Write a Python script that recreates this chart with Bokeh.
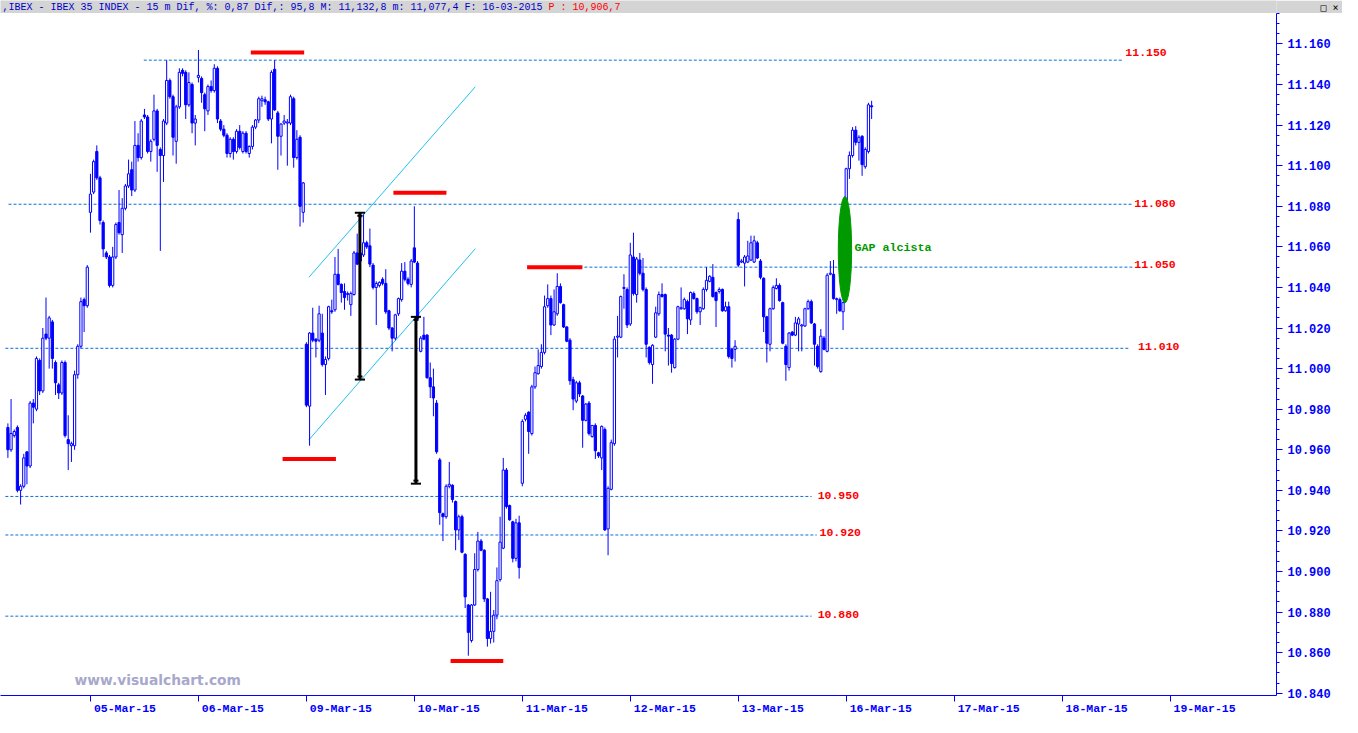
from bokeh.plotting import figure
from bokeh.models import ColumnDataSource, FixedTicker, Range1d
from bokeh.layouts import column
from bokeh.embed import file_html
from bokeh.resources import INLINE
from bokeh.core.properties import value

# ---------------- data (IBEX 35, 15 minute bars, open/high/low/close) ----------------
day_labels = ["04-Mar-15", "05-Mar-15", "06-Mar-15", "09-Mar-15", "10-Mar-15", "11-Mar-15",
              "12-Mar-15", "13-Mar-15", "16-Mar-15", "17-Mar-15", "18-Mar-15", "19-Mar-15"]
BARS_PER_DAY = 34

bars_04 = [(10971, 10973, 10956, 10960), (10960, 10985, 10959, 10968), (10967, 10970, 10966, 10969),
           (10971, 10972, 10939, 10940), (10940, 10943, 10933, 10942), (10942, 10958, 10941, 10956),
           (10959, 10959, 10943, 10952), (10952, 10984, 10951, 10983), (10983, 10985, 10973, 10981),
           (10980, 11006, 10979, 11005), (11004, 11005, 10987, 10989), (10989, 11020, 10988, 11015),
           (11017, 11035, 11014, 11015), (11015, 11026, 11000, 11025), (11023, 11024, 11000, 11005),
           (11003, 11004, 10987, 10993), (10992, 10993, 10985, 10988), (10988, 11004, 10987, 11003),
           (11003, 11004, 10966, 10967), (10965, 10977, 10950, 10963), (10962, 10964, 10954, 10963),
           (10962, 10999, 10960, 10997), (10997, 11012, 10995, 11011), (11011, 11035, 11010, 11033),
           (11034, 11035, 11018, 11031), (11031, 11051, 11030, 11050)]
bars_05 = [(11077, 11096, 11067, 11086), (11087, 11103, 11086, 11102), (11107, 11110, 11093, 11094),
           (11094, 11095, 11071, 11073), (11072, 11073, 11055, 11059), (11057, 11058, 11054, 11055),
           (11055, 11056, 11040, 11041), (11041, 11060, 11040, 11055), (11055, 11072, 11054, 11071),
           (11072, 11088, 11066, 11067), (11066, 11084, 11057, 11079), (11079, 11091, 11078, 11090),
           (11090, 11103, 11089, 11096), (11098, 11102, 11085, 11088), (11088, 11122, 11087, 11110),
           (11110, 11116, 11102, 11104), (11104, 11123, 11103, 11122), (11125, 11128, 11123, 11124),
           (11124, 11125, 11106, 11107), (11107, 11113, 11102, 11112), (11113, 11135, 11112, 11127),
           (11127, 11128, 11097, 11110), (11108, 11109, 11058, 11105), (11105, 11123, 11092, 11122),
           (11121, 11152, 11120, 11142), (11142, 11143, 11133, 11134), (11134, 11135, 11105, 11114),
           (11112, 11130, 11101, 11129), (11129, 11148, 11128, 11146), (11147, 11148, 11144, 11145.5),
           (11146, 11147, 11123, 11130), (11130, 11146, 11129, 11141), (11140, 11141, 11116, 11121),
           (11121, 11125, 11110, 11123)]
bars_06 = [(11143.5, 11157, 11141, 11144.5), (11143, 11144, 11131, 11136), (11135, 11136, 11117, 11128),
           (11127, 11140, 11125, 11139), (11139, 11142, 11136, 11137), (11137, 11150, 11136, 11148),
           (11148, 11149, 11121, 11123), (11122, 11123, 11117, 11118), (11118, 11120, 11114, 11115),
           (11115, 11116, 11104, 11106), (11106, 11114, 11104, 11113), (11113, 11114, 11103, 11107),
           (11107, 11118, 11106, 11117), (11117, 11120, 11108, 11109), (11107, 11117, 11106, 11116),
           (11116, 11117, 11106, 11107), (11106, 11110, 11104, 11109.5), (11109.5, 11120, 11108, 11119),
           (11119, 11123, 11118, 11122.5), (11122.5, 11134, 11121, 11133), (11132, 11134.5, 11129, 11133),
           (11132.5, 11134, 11130, 11131.5), (11131.5, 11132, 11122, 11123), (11123, 11147, 11111, 11146),
           (11147.5, 11152, 11127, 11127.5), (11126, 11127, 11098, 11114.5), (11114.5, 11121, 11105, 11120.5),
           (11121, 11125, 11120, 11122), (11121, 11123, 11100, 11121.5), (11121, 11135, 11120, 11134),
           (11133, 11134, 11099, 11104), (11104, 11117.5, 11103, 11113), (11114, 11115, 11070, 11080),
           (11077, 11092, 11072, 11091.5)]
bars_09 = [(11012, 11013, 10981, 10982), (10981.5, 11018, 10962, 11017.5), (11017.5, 11030, 11013, 11014),
           (11014.5, 11015, 11005.5, 11013.5), (11014, 11031, 11013, 11027), (11017.5, 11027, 11001, 11002),
           (11002, 11006, 10987, 11004.5), (11005, 11031, 11004, 11030.5), (11028.5, 11034, 11027, 11028),
           (11029, 11055, 11028, 11046.5), (11046.5, 11059, 11041, 11041.5), (11041.5, 11042, 11032.5, 11037.5),
           (11038, 11042, 11029, 11035), (11036.5, 11038, 11033.5, 11037), (11031.5, 11038, 11026, 11037),
           (11036.5, 11058, 11036, 11057), (11057, 11066.5, 11051, 11051.5), (11053, 11060, 11052.5, 11057),
           (11056, 11076, 11055, 11062), (11062, 11063, 11059, 11060), (11060.5, 11069, 11050, 11051.5),
           (11051, 11052, 11039, 11040), (11040, 11043, 11021.5, 11042), (11041, 11043, 11040, 11042.5),
           (11044, 11045, 11041, 11042), (11042, 11049, 11027, 11028), (11028.5, 11029, 11019, 11020),
           (11020, 11020.5, 11008.5, 11015), (11015, 11027, 11014, 11026.5), (11027, 11035, 11026, 11034.5),
           (11034, 11052, 11033, 11048), (11048, 11052.5, 11043, 11044), (11044, 11045, 11041, 11042),
           (11041.5, 11054, 11040, 11053)]
bars_10 = [(11059.5, 11080, 11052, 11052.5), (11052, 11053, 11024, 11024.5), (11008.5, 11016, 11008, 11015),
           (11016.5, 11025.5, 11014, 11014.5), (11016.5, 11017, 10995, 10995.5), (10995.5, 11003, 10985.5, 10991),
           (10991, 11000, 10976.5, 10985.5), (10983, 10984.5, 10958, 10959), (10955, 10956, 10923, 10929),
           (10928.5, 10929, 10915, 10927), (10927, 10943, 10926, 10942), (10942, 10954, 10941, 10943),
           (10942.5, 10943, 10934, 10935.5), (10934.5, 10935, 10910.5, 10920.5), (10920.5, 10928, 10915.5, 10927),
           (10927, 10928, 10909, 10909.5), (10908.5, 10909, 10882, 10887.5), (10883.5, 10884, 10858.5, 10870),
           (10866, 10884, 10865, 10883.5), (10883.5, 10909, 10883, 10901), (10901, 10919.5, 10900, 10915),
           (10915, 10916, 10910, 10910.5), (10910.5, 10911, 10885, 10886.5), (10886.5, 10887, 10863, 10867),
           (10867, 10890, 10864.5, 10870.5), (10870.5, 10881, 10865, 10878.5), (10878.5, 10902, 10876.5, 10895.5),
           (10896, 10927, 10895, 10914.5), (10911.5, 10956, 10911, 10950), (10950, 10951, 10931, 10932),
           (10932.5, 10933, 10925, 10925.5), (10924.5, 10925, 10904.5, 10906.5), (10906.5, 10926, 10905, 10924),
           (10924, 10927.5, 10896.5, 10902)]
bars_11 = [(10943.5, 10975, 10942, 10974), (10975, 10978, 10974, 10977), (10978.5, 10979, 10958, 10969),
           (10968, 10992, 10967, 10991), (10991, 11001, 10990, 10998), (10997.5, 11009.5, 10997, 11001.5),
           (11001, 11012, 11000, 11008), (11008, 11036, 11007, 11030.5), (11031, 11041.5, 11030, 11034.5),
           (11034.5, 11036, 11016.5, 11021.5), (11021.5, 11039, 11021, 11028), (11027, 11047, 11026, 11040.5),
           (11040.5, 11042, 11032, 11032.5), (11031.5, 11032, 11020, 11020.5), (11020.5, 11021, 11013, 11013.5),
           (11014, 11015, 10992, 10994), (10994.5, 10996, 10979.5, 10985), (10984, 10994, 10983, 10993),
           (10993, 10994, 10986, 10987.5), (10986.5, 10987, 10961, 10974.5), (10974.5, 10983, 10974, 10982.5),
           (10983, 10984, 10967, 10968), (10966.5, 10972, 10966, 10972), (10972, 10973, 10955.5, 10959.5),
           (10958.5, 10959, 10956, 10957), (10956, 10972, 10950, 10971.5), (10970, 10971, 10920, 10920.5),
           (10921, 10942, 10908, 10941), (10940.5, 10965, 10940, 10963.5), (10963, 11016, 10962, 11014.5),
           (11015.5, 11026, 11005.5, 11016), (11015.5, 11036, 11015, 11035.5), (11039.5, 11046.5, 11029.5, 11040),
           (11039, 11040, 11020, 11021.5)]
bars_12 = [(11022, 11062, 11021, 11056), (11055, 11067, 11036, 11037), (11036.5, 11055, 11032.5, 11054),
           (11053.5, 11057, 11046, 11047), (11047, 11054.5, 11038, 11039), (11039, 11040, 11005.5, 11012),
           (11010.5, 11011, 11002, 11003), (11002, 11012, 10992.5, 11011.5), (11015.5, 11030.5, 11015, 11027.5),
           (11027, 11038, 11026, 11036.5), (11036.5, 11042, 11035, 11035.5), (11036.5, 11037, 11008.5, 11017),
           (11016.5, 11020, 11001.5, 11016), (11016.5, 11017, 10998, 11002.5), (11000.5, 11015, 11000, 11014.5),
           (11014.5, 11031, 11014, 11030.5), (11029.5, 11040, 11029, 11030), (11029.5, 11035, 11029, 11034),
           (11033, 11034, 11017, 11024.5), (11024, 11038, 11021.5, 11037.5), (11037, 11038, 11034, 11034.5),
           (11034.5, 11035, 11027, 11028), (11028, 11030.5, 11021.5, 11030), (11029.5, 11040, 11029, 11039),
           (11039, 11050, 11038, 11043.5), (11043, 11046, 11042.5, 11045.5), (11045, 11051.5, 11035, 11035.5),
           (11037.5, 11038, 11020.5, 11033.5), (11038, 11040, 11037, 11039), (11039, 11039.5, 11028, 11028.5),
           (11028.5, 11033, 11028, 11030.5), (11030.5, 11033, 11005, 11006), (11009.5, 11010, 11000.5, 11005),
           (11009.5, 11014, 11003.5, 11011)]
bars_13 = [(11073.5, 11077, 11050, 11051), (11052.5, 11054, 11052, 11053), (11052, 11056, 11040.5, 11055),
           (11052.5, 11063, 11052, 11055.5), (11053.5, 11065.5, 11053, 11062), (11052.5, 11065.5, 11052, 11063),
           (11062, 11063, 11054, 11054.5), (11053, 11054, 11044, 11045), (11044.5, 11045, 11018, 11025.5),
           (11025.5, 11026, 11003, 11012.5), (11012, 11030, 11008.5, 11029.5), (11029.5, 11041, 11029, 11040),
           (11039.5, 11044.5, 11039, 11041), (11041, 11042, 11033, 11033.5), (11032.5, 11033, 11012, 11012.5),
           (11011, 11012, 10994, 11002), (11000.5, 11018, 10999, 11017.5), (11018, 11018.5, 11016, 11016.5),
           (11016.5, 11025.5, 11016, 11022.5), (11022, 11025.5, 11008.5, 11024.5), (11021, 11022, 11008.5, 11021.5),
           (11021, 11030, 11020.5, 11029.5), (11029.5, 11034, 11029, 11033), (11033, 11034, 11022, 11022.5),
           (11022, 11022.5, 11001.5, 11012), (11011, 11012, 11000, 11001), (10998.5, 11019.5, 10998, 11016),
           (11015, 11016, 11009, 11009.5), (11008.5, 11047, 11008, 11046), (11046.5, 11053, 11046, 11047),
           (11046.5, 11053.5, 11034, 11034.5), (11034, 11035, 11027, 11034.5), (11034, 11035, 11028, 11028.5),
           (11028, 11033, 11019, 11032.5)]
bars_16 = [(11083, 11099, 11079, 11098.5), (11098.5, 11107, 11093.5, 11105), (11105, 11119, 11104, 11117.5),
           (11117.5, 11119.5, 11110, 11111.5), (11111.5, 11115, 11102.5, 11114), (11114.5, 11115, 11095, 11100.5),
           (11099.5, 11109, 11098.5, 11108), (11107, 11131, 11106, 11130), (11129.5, 11132, 11123, 11129)]

# day index of each list and the bar slot where the visible data starts
day_series = [(0, 8, bars_04), (1, 0, bars_05), (2, 0, bars_06), (3, 0, bars_09), (4, 0, bars_10),
              (5, 0, bars_11), (6, 0, bars_12), (7, 0, bars_13), (8, 0, bars_16)]

y_tick_values = list(range(10840, 11161, 20))
y_tick_labels = ["10.840", "10.860", "10.880", "10.900", "10.920", "10.940", "10.960", "10.980", "11.000",
                 "11.020", "11.040", "11.060", "11.080", "11.100", "11.120", "11.140", "11.160"]

# support / resistance lines (level, from bar, to bar) and their labels
level_lines = [11152, 11081, 11050, 11010, 10937, 10918, 10878]
level_from = [50.8, 8.2, 180.1, 7.2, 7.2, 7.2, 7.2]
level_to = [359.3, 362.1, 362.1, 361.1, 261.1, 262.7, 261.1]
level_texts = ["11.150", "11.080", "11.050", "11.010", "10.950", "10.920", "10.880"]
level_text_x = [359.9, 362.7, 362.7, 363.9, 263.0, 263.6, 263.0]
level_text_y = [11155.8, 11081.3, 11051.4, 11011.1, 10937.5, 10919.2, 10878.8]

# red highs / lows markers
mark_levels = [11155.8, 11086.7, 10955.4, 11050.0, 10855.9]
mark_from = [84.5, 129.4, 94.5, 171.5, 147.4]
mark_to = [101.3, 146.1, 111.3, 188.9, 164.0]

# channel
chan_x0 = [102.8, 102.8]
chan_y0 = [11045.0, 10964.9]
chan_x1 = [155.2, 155.2]
chan_y1 = [11138.9, 11059.1]

# measurements
meas_x = [118.85, 136.5]
meas_top = [11076.8, 11025.5]
meas_bot = [10994.6, 10943.3]

# gap
gap_x, gap_y, gap_w, gap_h = [271.6], [11058.6], 4.2, 52.4
gap_text_x, gap_text_y = [274.6], [11059.5]

BLUE = "#0000ff"

xs, opens, highs, lows, closes = [], [], [], [], []
for day, start, bars in day_series:
    for i, (bo, bh, bl, bc) in enumerate(bars):
        xs.append(day * BARS_PER_DAY + start + i)
        opens.append(bo); highs.append(bh); lows.append(bl); closes.append(bc)

src = ColumnDataSource(dict(
    x=xs, high=highs, low=lows,
    top=[max(a, b) for a, b in zip(opens, closes)],
    bottom=[min(a, b) for a, b in zip(opens, closes)],
    fill=["white" if c > o else BLUE for o, c in zip(opens, closes)],
))

W, H = 1342, 717
HEAD_H = 13
RIGHT = 66
FRAME_W = W - RIGHT

# ---------------- header bar ----------------
head = figure(width=W, height=HEAD_H, x_range=Range1d(0, FRAME_W), y_range=Range1d(0, HEAD_H),
              output_backend="svg", toolbar_location=None, x_axis_location=None, y_axis_location="right",
              min_border=0, min_border_left=0, min_border_right=RIGHT, min_border_top=0, min_border_bottom=0,
              background_fill_color="#d4d4d4", border_fill_color="#d4d4d4", outline_line_color=None)
head.grid.visible = False
title_main = ",IBEX - IBEX 35 INDEX -  15 m Dif, %: 0,87 Dif,: 95,8 M: 11,132,8 m: 11,077,4 F: 16-03-2015"
title_red = "P : 10,906,7"
head.text(x=[2], y=[6.3], text=[title_main], text_font=value("Liberation Mono"), text_font_size="10px",
          text_color="#0000cc", text_baseline="middle", text_align="left")
head.text(x=[548], y=[6.3], text=[title_red], text_font=value("Liberation Mono"),
          text_font_size="10px", text_color="#ff0000", text_baseline="middle", text_align="left")
# window buttons drawn as the header's right-hand axis label
hax = head.yaxis[0]
hax.ticker = FixedTicker(ticks=[6.5], minor_ticks=[])
hax.major_label_overrides = {6.5: "_ \u25a1 \u00d7"}
hax.axis_line_color = None
hax.major_tick_line_color = None
hax.minor_tick_line_color = None
hax.major_tick_out = 0
hax.major_tick_in = 0
hax.major_label_standoff = 32
hax.major_label_text_font = "DejaVu Sans Mono"
hax.major_label_text_font_size = "10px"
hax.major_label_text_color = "black"

# ---------------- main chart ----------------
p = figure(width=W, height=H - HEAD_H, x_range=Range1d(5.67, 407.5), y_range=Range1d(10838.9, 11175.0),
           output_backend="svg", toolbar_location=None, y_axis_location="right",
           min_border_left=0, min_border_top=0, min_border_right=RIGHT, min_border_bottom=18,
           background_fill_color="white", border_fill_color="white", outline_line_color=None)
p.grid.visible = False

yax = p.yaxis[0]
yax.ticker = FixedTicker(ticks=y_tick_values, minor_ticks=list(range(10840, 11176, 5)))
yax.major_label_overrides = {t: s for t, s in zip(y_tick_values, y_tick_labels)}
yax.axis_line_color = BLUE
yax.major_tick_line_color = BLUE
yax.minor_tick_line_color = BLUE
yax.major_tick_out = 6
yax.major_tick_in = 0
yax.minor_tick_out = 3
yax.minor_tick_in = 0
yax.major_label_standoff = 5
yax.major_label_text_font = "Liberation Mono"
yax.major_label_text_font_style = "bold"
yax.major_label_text_font_size = "12px"
yax.major_label_text_color = BLUE

xax = p.xaxis[0]
x_tick_values = [d * BARS_PER_DAY for d in range(1, len(day_labels))]
xax.ticker = FixedTicker(ticks=x_tick_values, minor_ticks=[])
xax.major_label_overrides = {t: "\u00a0" * 10 + day_labels[t // BARS_PER_DAY] for t in x_tick_values}
xax.axis_line_color = BLUE
xax.major_tick_line_color = BLUE
xax.major_tick_out = 6
xax.major_tick_in = 0
xax.minor_tick_out = 0
xax.minor_tick_in = 0
xax.major_label_standoff = 0
xax.major_label_text_font = "Liberation Mono"
xax.major_label_text_font_style = "bold"
xax.major_label_text_font_size = "11.5px"
xax.major_label_text_color = BLUE

# level lines
p.segment(x0=level_from, y0=level_lines, x1=level_to, y1=level_lines, line_color="#0a6fd8",
          line_width=1, line_dash="3 2")
# channel
p.segment(x0=chan_x0, y0=chan_y0, x1=chan_x1, y1=chan_y1, line_color="#1ec0f0", line_width=1)

# candles
p.segment(x0="x", y0="low", x1="x", y1="high", source=src, line_color=BLUE, line_width=1)
p.vbar(x="x", top="top", bottom="bottom", width=0.7, source=src, fill_color="fill", line_color=BLUE,
       line_width=1)

# red markers
p.segment(x0=mark_from, y0=mark_levels, x1=mark_to, y1=mark_levels, line_color="#ff0000", line_width=4)

# measurement bars
p.segment(x0=meas_x, y0=meas_bot, x1=meas_x, y1=meas_top, line_color="black", line_width=3)
cap_x0 = [m - 1.6 for m in meas_x] * 2
cap_x1 = [m + 1.6 for m in meas_x] * 2
p.segment(x0=cap_x0, y0=meas_top + meas_bot, x1=cap_x1, y1=meas_top + meas_bot, line_color="black",
          line_width=2)
p.segment(x0=[m - 0.8 for m in meas_x] * 2, y0=[t - 1.5 for t in meas_top] + [b + 1.5 for b in meas_bot],
          x1=[m + 0.8 for m in meas_x] * 2, y1=[t - 1.5 for t in meas_top] + [b + 1.5 for b in meas_bot],
          line_color="black", line_width=2)

# gap
p.ellipse(x=gap_x, y=gap_y, width=gap_w, height=gap_h, fill_color="#009900", line_color="#009900")
p.text(x=gap_text_x, y=gap_text_y, text=["GAP alcista"], text_font=value("Liberation Mono"),
       text_font_style="bold", text_font_size="11.7px", text_color="#009900", text_baseline="middle",
       text_align="left")

# level labels
p.text(x=level_text_x, y=level_text_y, text=level_texts, text_font=value("Liberation Mono"),
       text_font_style="bold", text_font_size="11.5px", text_color="#ff0000", text_baseline="middle",
       text_align="left")

# watermark
p.text(x=[29.0], y=[10846.6], text=["www.visualchart.com"], text_font=value("DejaVu Sans"),
       text_font_style="bold", text_font_size="13.8px", text_color="#a8a8cc", text_baseline="middle",
       text_align="left")

layout = column(head, p, spacing=0)
open("out.html", "w").write(file_html(layout, INLINE))
